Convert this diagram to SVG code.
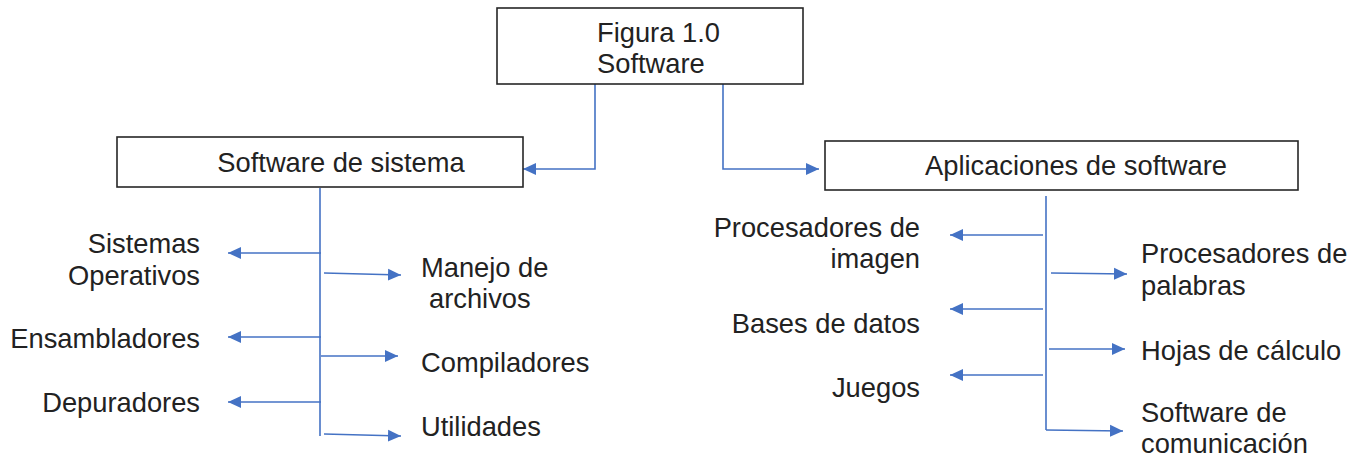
<svg xmlns="http://www.w3.org/2000/svg" width="1364" height="460" viewBox="0 0 1364 460">
  <defs>
    <marker id="arrow" markerUnits="userSpaceOnUse" markerWidth="14" markerHeight="14" refX="13" refY="7" orient="auto">
      <path d="M0,1 L13,7 L0,13 z" fill="#4472C4"/>
    </marker>
    <style>
      .box { fill: #ffffff; stroke: #262626; stroke-width: 1.6; }
      .lbl { font-family: "Liberation Sans", Arial, sans-serif; font-size: 27.3px; fill: #222222; }
      .end { text-anchor: end; }
      .mid { text-anchor: middle; }
      .wire { fill: none; stroke: #4472C4; stroke-width: 1.6; }
      .arr { fill: none; stroke: #4472C4; stroke-width: 1.6; marker-end: url(#arrow); }
    </style>
  </defs>
  <rect width="1364" height="460" fill="#ffffff"/>

  <!-- connectors -->
  <g id="connectors">
    <!-- root to the two branches -->
    <path class="arr" d="M595,84 V169 H523"/>
    <path class="arr" d="M723,84 V169 H819"/>
    <!-- system software spine -->
    <path class="wire" d="M320,188 V436"/>
    <path class="arr" d="M321,253 H228"/>
    <path class="arr" d="M321,337 H228"/>
    <path class="arr" d="M321,402 H228"/>
    <path class="arr" d="M324,273 L401,275"/>
    <path class="arr" d="M321,356 H398"/>
    <path class="arr" d="M324,434 L401,436"/>
    <!-- application software spine -->
    <path class="wire" d="M1046,196 V430"/>
    <path class="arr" d="M1043,235 H950"/>
    <path class="arr" d="M1043,309 H950"/>
    <path class="arr" d="M1043,375 H950"/>
    <path class="arr" d="M1051,273 L1127,274"/>
    <path class="arr" d="M1049,349 H1125"/>
    <path class="arr" d="M1046,430 L1123,431"/>
  </g>

  <!-- root node -->
  <g id="root">
    <rect class="box" x="497" y="8" width="306" height="76"/>
    <text class="lbl" x="597" y="42">Figura 1.0</text>
    <text class="lbl" x="597" y="73">Software</text>
  </g>

  <!-- system software -->
  <g id="system-software">
    <rect class="box" x="117" y="137" width="406" height="50"/>
    <text class="lbl mid" x="341" y="172">Software de sistema</text>
  </g>
  <g id="sistemas-operativos">
    <text class="lbl end" x="200" y="253">Sistemas</text>
    <text class="lbl end" x="200" y="285">Operativos</text>
  </g>
  <g id="ensambladores">
    <text class="lbl end" x="200" y="348">Ensambladores</text>
  </g>
  <g id="depuradores">
    <text class="lbl end" x="200" y="412">Depuradores</text>
  </g>
  <g id="manejo-archivos">
    <text class="lbl" x="421" y="277">Manejo de</text>
    <text class="lbl" x="429" y="308">archivos</text>
  </g>
  <g id="compiladores">
    <text class="lbl" x="421" y="372">Compiladores</text>
  </g>
  <g id="utilidades">
    <text class="lbl" x="421" y="436">Utilidades</text>
  </g>

  <!-- application software -->
  <g id="application-software">
    <rect class="box" x="825" y="141" width="473" height="49"/>
    <text class="lbl mid" x="1076" y="175">Aplicaciones de software</text>
  </g>
  <g id="procesadores-imagen">
    <text class="lbl end" x="920" y="237">Procesadores de</text>
    <text class="lbl end" x="920" y="268">imagen</text>
  </g>
  <g id="bases-datos">
    <text class="lbl end" x="920" y="333">Bases de datos</text>
  </g>
  <g id="juegos">
    <text class="lbl end" x="920" y="397">Juegos</text>
  </g>
  <g id="procesadores-palabras">
    <text class="lbl" x="1141" y="263">Procesadores de</text>
    <text class="lbl" x="1141" y="295">palabras</text>
  </g>
  <g id="hojas-calculo">
    <text class="lbl" x="1141" y="360">Hojas de cálculo</text>
  </g>
  <g id="software-comunicacion">
    <text class="lbl" x="1141" y="422">Software de</text>
    <text class="lbl" x="1141" y="453">comunicación</text>
  </g>
</svg>
